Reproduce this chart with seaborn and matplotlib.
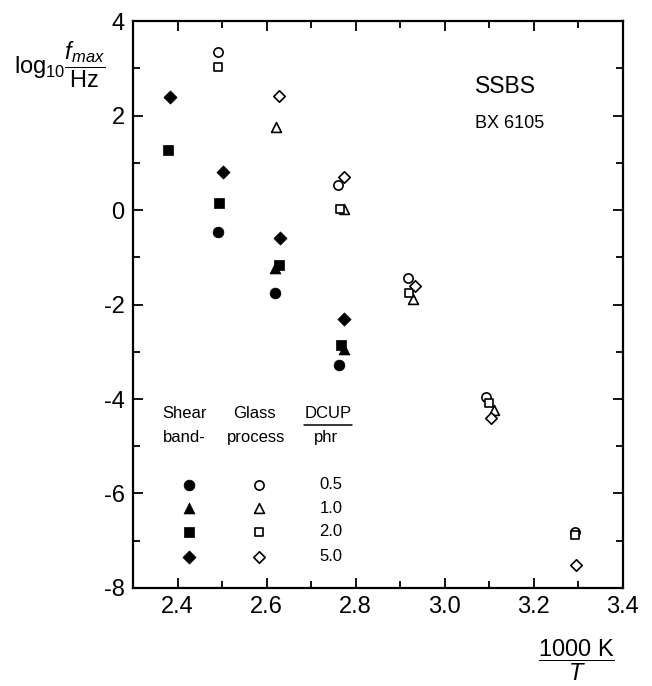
import matplotlib
matplotlib.use("Agg")
import matplotlib.pyplot as plt
import seaborn as sns
import pandas as pd
from matplotlib.ticker import MultipleLocator, FixedLocator

# ---- data (1000K/T, log10 fmax/Hz) ----
dcup_levels = [0.5, 1.0, 2.0, 5.0]
dcup_labels = ["0.5", "1.0", "2.0", "5.0"]

shear_x_05 = [2.49, 2.62, 2.763]
shear_y_05 = [-0.46, -1.75, -3.27]
shear_x_10 = [2.62, 2.773]
shear_y_10 = [-1.23, -2.94]
shear_x_20 = [2.378, 2.494, 2.627, 2.767]
shear_y_20 = [1.27, 0.16, -1.16, -2.86]
shear_x_50 = [2.382, 2.502, 2.631, 2.773]
shear_y_50 = [2.40, 0.81, -0.58, -2.31]

glass_x_05 = [2.49, 2.76, 2.917, 3.094, 3.294]
glass_y_05 = [3.34, 0.54, -1.43, -3.95, -6.82]
glass_x_10 = [2.621, 2.775, 2.93, 3.11]
glass_y_10 = [1.76, 0.02, -1.89, -4.23]
glass_x_20 = [2.492, 2.766, 2.921, 3.10, 3.294]
glass_y_20 = [3.03, 0.02, -1.76, -4.08, -6.88]
glass_x_50 = [2.627, 2.773, 2.933, 3.104, 3.295]
glass_y_50 = [2.42, 0.70, -1.60, -4.40, -7.51]

x_ticks = [2.4, 2.6, 2.8, 3.0, 3.2, 3.4]
y_ticks = [-8, -6, -4, -2, 0, 2, 4]


def frame(xs, ys, level):
    return pd.DataFrame({"x": xs, "y": ys, "DCUP": [level] * len(xs)})


shear = pd.concat([
    frame(shear_x_05, shear_y_05, 0.5),
    frame(shear_x_10, shear_y_10, 1.0),
    frame(shear_x_20, shear_y_20, 2.0),
    frame(shear_x_50, shear_y_50, 5.0),
], ignore_index=True)
glass = pd.concat([
    frame(glass_x_05, glass_y_05, 0.5),
    frame(glass_x_10, glass_y_10, 1.0),
    frame(glass_x_20, glass_y_20, 2.0),
    frame(glass_x_50, glass_y_50, 5.0),
], ignore_index=True)

marker_map = {0.5: "o", 1.0: "^", 2.0: "s", 5.0: "D"}
filled_size = {0.5: 60, 1.0: 62, 2.0: 50, 5.0: 45}
open_size = {0.5: 44, 1.0: 50, 2.0: 36, 5.0: 34}

sns.set_theme(style="ticks")
plt.rcParams["font.family"] = ["Liberation Sans", "DejaVu Sans"]
plt.rcParams["text.color"] = "black"
plt.rcParams["axes.labelcolor"] = "black"
plt.rcParams["xtick.color"] = "black"
plt.rcParams["ytick.color"] = "black"
plt.rcParams["mathtext.fontset"] = "custom"
plt.rcParams["mathtext.rm"] = "Liberation Sans"
plt.rcParams["mathtext.it"] = "Liberation Sans:italic"
plt.rcParams["mathtext.bf"] = "Liberation Sans:bold"

fig = plt.figure(figsize=(6.52, 6.86), dpi=100)
ax = fig.add_axes([0.204, 0.143, 0.751, 0.826])

for lvl in dcup_levels:
    sub = shear[shear["DCUP"] == lvl]
    sns.scatterplot(data=sub, x="x", y="y", ax=ax, marker=marker_map[lvl],
                    color="black", edgecolor="black", linewidth=0.5,
                    s=filled_size[lvl], legend=False, zorder=3)
for lvl in dcup_levels:
    sub = glass[glass["DCUP"] == lvl]
    sns.scatterplot(data=sub, x="x", y="y", ax=ax, marker=marker_map[lvl],
                    color="white", edgecolor="black", linewidth=1.2,
                    s=open_size[lvl], legend=False, zorder=3)

ax.set_xlim(2.3, 3.4)
ax.set_ylim(-8, 4)
ax.xaxis.set_major_locator(FixedLocator(x_ticks))
ax.yaxis.set_major_locator(FixedLocator(y_ticks))
ax.xaxis.set_minor_locator(MultipleLocator(0.1))
ax.yaxis.set_minor_locator(MultipleLocator(1))
ax.set_xticklabels([f"{v:.1f}" for v in x_ticks])
ax.set_yticklabels([str(v) for v in y_ticks])
ax.tick_params(which="both", direction="in", top=True, right=True,
               width=1.3, colors="black", labelsize=17, pad=6)
ax.tick_params(which="major", length=7)
ax.tick_params(which="minor", length=5)
for sp in ax.spines.values():
    sp.set_linewidth(1.6)
    sp.set_color("black")
ax.set_xlabel("")
ax.set_ylabel("")

# axis labels as fractions
fig.text(0.022, 0.905, r"$\mathrm{log}_{10}\dfrac{f_{max}}{\mathrm{Hz}}$",
         fontsize=17, ha="left", va="center", color="black")
fig.text(0.884, 0.038, r"$\dfrac{\mathrm{1000\ K}}{T}$",
         fontsize=17, ha="center", va="center", color="black")

# annotations
ax.text(0.698, 0.884, "SSBS", transform=ax.transAxes, fontsize=16.5,
        ha="left", va="center", color="black")
ax.text(0.698, 0.819, "BX 6105", transform=ax.transAxes, fontsize=13,
        ha="left", va="center", color="black")

# legend table
lt = dict(transform=ax.transAxes, fontsize=12, ha="center", va="center",
          color="black")
ax.text(0.105, 0.307, "Shear", **lt)
ax.text(0.105, 0.265, "band-", **lt)
ax.text(0.249, 0.307, "Glass", **lt)
ax.text(0.251, 0.265, "process", **lt)
ax.text(0.398, 0.307, "DCUP", **lt)
ax.text(0.395, 0.265, "phr", **lt)
ax.plot([0.35, 0.447], [0.287, 0.287], transform=ax.transAxes,
        color="black", lw=1.1)
row_y = [0.182, 0.141, 0.099, 0.055]
for lvl, lab, ry in zip(dcup_levels, dcup_labels, row_y):
    ax.scatter([0.114], [ry], transform=ax.transAxes, marker=marker_map[lvl],
               s=filled_size[lvl], color="black", edgecolor="black",
               linewidth=0.5, zorder=3)
    ax.scatter([0.257], [ry], transform=ax.transAxes, marker=marker_map[lvl],
               s=open_size[lvl], color="white", edgecolor="black",
               linewidth=1.2, zorder=3)
    ax.text(0.404, ry, lab, **lt)

fig.savefig("out.png", dpi=100)
